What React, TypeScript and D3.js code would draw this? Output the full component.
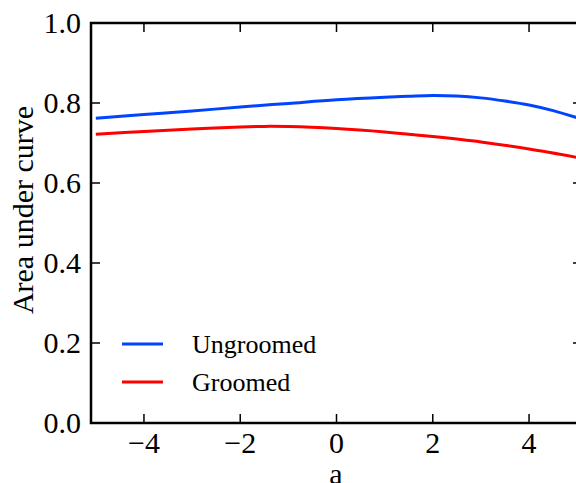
import React from "react";
import * as d3 from "d3";

const xValues = [-5, -4, -3, -2, -1, 0, 1, 1.5, 2, 2.5, 3, 3.5, 4, 4.5, 5];
const ungroomed = [0.762, 0.771, 0.780, 0.790, 0.799, 0.808, 0.8145, 0.817, 0.819, 0.8175, 0.8128, 0.805, 0.795, 0.781, 0.763];
const groomedX = [-5, -4, -3, -2, -1.5, -1, 0, 1, 2, 3, 4, 5];
const groomed = [0.722, 0.729, 0.735, 0.740, 0.7415, 0.741, 0.736, 0.7275, 0.716, 0.7025, 0.685, 0.664];
const xTicks = [-4, -2, 0, 2, 4];
const yTicks = [0, 0.2, 0.4, 0.6, 0.8, 1.0];
const seriesNames = ["Ungroomed", "Groomed"];
const colors = ["#0044ff", "#ff0000"];

export default function App() {
  const W = 576, H = 483;
  const x = d3.scaleLinear().domain([-5.1, 5.1]).range([91, 582]);
  const y = d3.scaleLinear().domain([0, 1]).range([423, 23]);
  const font = "'Liberation Serif', 'Times New Roman', serif";
  const line = d3.line<[number, number]>().x(d => x(d[0])).y(d => y(d[1])).curve(d3.curveCatmullRom.alpha(0.5));
  const blue = line(xValues.map((v, i) => [v, ungroomed[i]] as [number, number])) || "";
  const red = line(groomedX.map((v, i) => [v, groomed[i]] as [number, number])) || "";
  const tl = 9;
  const x0 = x.range()[0], x1 = x.range()[1], y0 = y.range()[0], y1 = y.range()[1];
  return (
    <svg width={W} height={H} style={{ position: "absolute", left: 0, top: 0, display: "block", background: "#fff" }}>
      <defs>
        <clipPath id="plot"><rect x={x0} y={y1} width={x1 - x0} height={y0 - y1} /></clipPath>
      </defs>
      <g clipPath="url(#plot)">
        <path d={blue} fill="none" stroke={colors[0]} strokeWidth={3} />
        <path d={red} fill="none" stroke={colors[1]} strokeWidth={3} />
      </g>
      {xTicks.map(t => (
        <g key={"x" + t}>
          <line x1={x(t)} x2={x(t)} y1={y0} y2={y0 - tl} stroke="#000" strokeWidth={1.5} />
          <line x1={x(t)} x2={x(t)} y1={y1} y2={y1 + tl} stroke="#000" strokeWidth={1.5} />
          <text x={x(t)} y={453} textAnchor="middle" fontFamily={font} fontSize={30}>{t < 0 ? "\u2212" + Math.abs(t) : String(t)}</text>
        </g>
      ))}
      {yTicks.map(t => (
        <g key={"y" + t}>
          <line x1={x0} x2={x0 + tl} y1={y(t)} y2={y(t)} stroke="#000" strokeWidth={1.5} />
          <line x1={x1} x2={x1 - tl} y1={y(t)} y2={y(t)} stroke="#000" strokeWidth={1.5} />
          <text x={81} y={y(t) + 10} textAnchor="end" fontFamily={font} fontSize={30}>{t.toFixed(1)}</text>
        </g>
      ))}
      <rect x={x0} y={y1} width={x1 - x0} height={y0 - y1} fill="none" stroke="#000" strokeWidth={2.5} />
      <text transform={`translate(33,210) rotate(-90)`} textAnchor="middle" fontFamily={font} fontSize={30}>Area under curve</text>
      <text x={336} y={484} textAnchor="middle" fontFamily={font} fontSize={30}>a</text>
      {seriesNames.map((n, i) => (
        <g key={n}>
          <line x1={122} x2={163} y1={344 + i * 38} y2={344 + i * 38} stroke={colors[i]} strokeWidth={3} />
          <text x={192} y={353 + i * 38} fontFamily={font} fontSize={26}>{n}</text>
        </g>
      ))}
    </svg>
  );
}
